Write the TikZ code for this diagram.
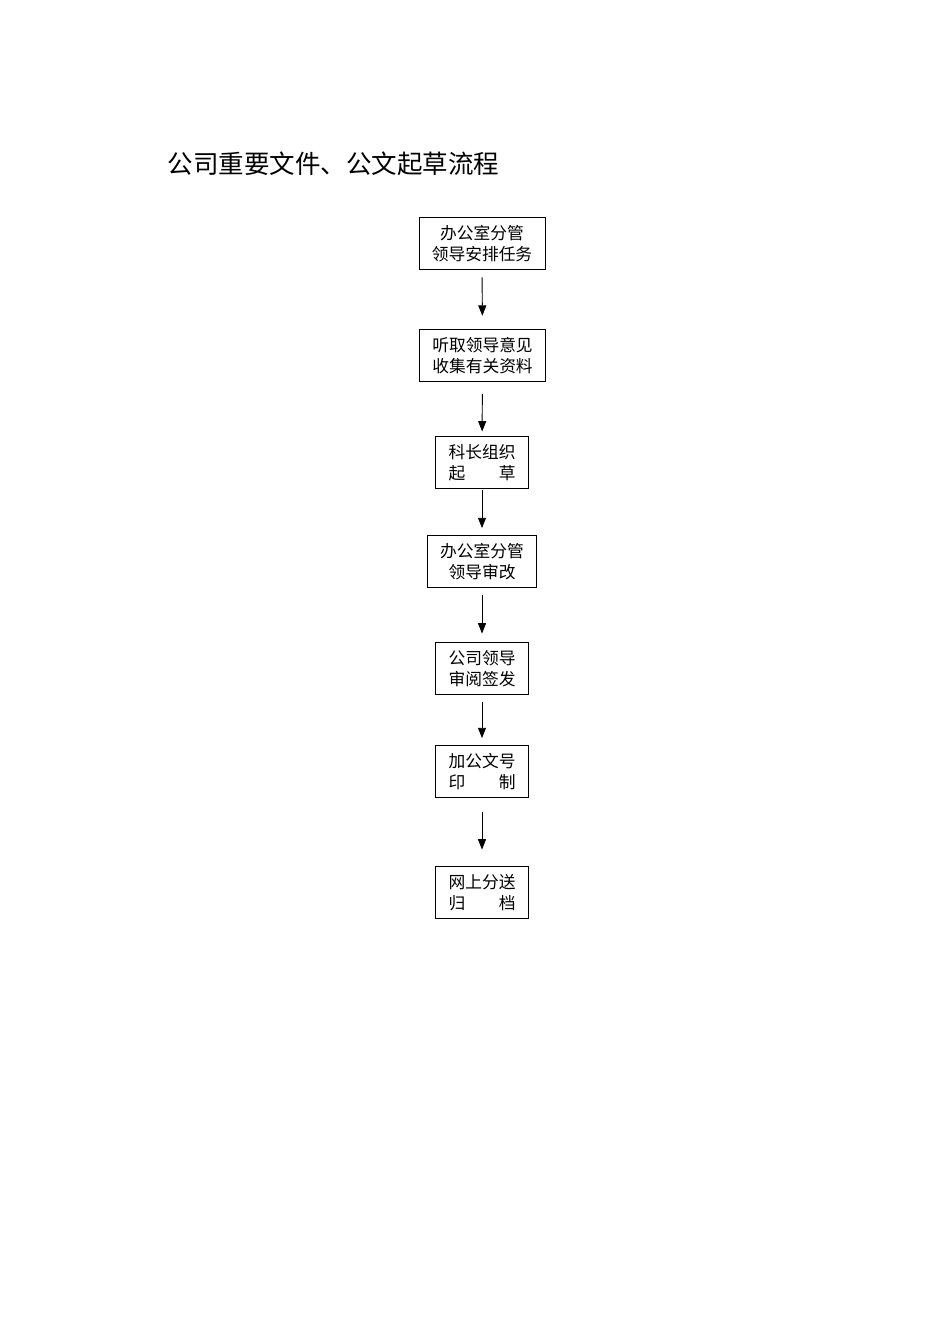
\documentclass[tikz,border=0pt]{standalone}
\usepackage{fontspec}
\newfontfamily\cjk{Noto Sans CJK SC}
\usetikzlibrary{arrows.meta}
\usetikzlibrary{positioning}

\begin{document}
\begin{tikzpicture}
	[x=0.627pt, y=-0.627pt,
	 every node/.style={font=\cjk\fontsize{10.5pt}{13.2pt}\selectfont},
	 stepbox/.style={draw, line width=0.6pt, align=center, inner xsep=8pt, inner ysep=0pt, minimum height=32.6pt, text depth=-1.2pt},
	 flow/.style={-{Triangle[length=6.5pt,width=5pt]}, line width=0.6pt}]
	\useasboundingbox (0,0) rectangle (950,1344);
	\node[anchor=west, font=\cjk\fontsize{16pt}{19pt}\selectfont] (title) at (162,164) {公司重要文件、公文起草流程};
	\node[stepbox] (task) at (482,243) {办公室分管\\领导安排任务};
	\node[stepbox] (collect) at (482.5,355) {听取领导意见\\收集有关资料};
	\node[stepbox] (draft) at (482,462) {科长组织\\起\hspace{2em}草};
	\node[stepbox] (revise) at (482,561) {办公室分管\\领导审改};
	\node[stepbox] (sign) at (482,668) {公司领导\\审阅签发};
	\node[stepbox] (print) at (482,771) {加公文号\\印\hspace{2em}制};
	\node[stepbox] (archive) at (482,892) {网上分送\\归\hspace{2em}档};
	% arrows between the steps
	\draw[flow, shorten <=5pt, shorten >=8pt] (task) -- (collect);
	\draw[flow, shorten <=8pt, shorten >=2.5pt] (collect) -- (draft);
	\draw[flow, shorten <=1pt, shorten >=4pt] (draft) -- (revise);
	\draw[flow, shorten <=5pt, shorten >=5pt] (revise) -- (sign);
	\draw[flow, shorten <=4.5pt, shorten >=4pt] (sign) -- (print);
	\draw[flow, shorten <=9pt, shorten >=10pt] (print) -- (archive);
\end{tikzpicture}
\end{document}
